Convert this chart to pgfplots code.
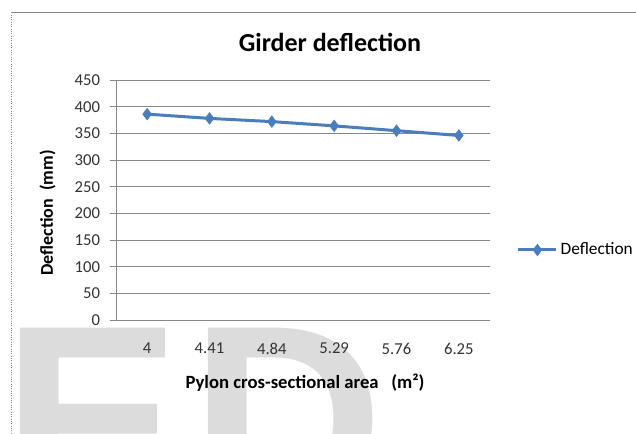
\documentclass[border=0pt]{standalone}
\usepackage{pgfplots}
\pgfplotsset{compat=1.18}
\usepackage{fontspec}
\setmainfont{Carlito}
\newfontfamily\wmfont{Liberation Sans}
\definecolor{excelblue}{RGB}{74,126,187}
\definecolor{gridgray}{RGB}{134,134,134}
\definecolor{wmgray}{RGB}{220,220,220}

\begin{document}
\begin{tikzpicture}[x=0.75pt,y=0.75pt]
% picture frame, 636 x 433 px (y measured upward)
\clip (0,0) rectangle (636,433);
\fill[white] (0,0) rectangle (636,433);

% faint watermark letters behind the chart
\node[wmgray, inner sep=0pt, anchor=base west, font=\wmfont\bfseries\fontsize{201}{201}\selectfont] at (2.5,-79) {E};
\node[wmgray, inner sep=0pt, anchor=base west, font=\wmfont\bfseries\fontsize{201}{201}\selectfont] at (190,-79) {D};

% chart-area border
\draw[gridgray, line width=0.75pt] (11,420.5) -- (636,420.5);
\draw[gridgray, line width=0.75pt, densely dotted] (11,420.5) -- (11,0);

\begin{axis}[
  at={(87pt,84.75pt)}, anchor=south west,
  scale only axis, width=280.5pt, height=180pt,
  xmin=-0.5, xmax=5.5, ymin=0, ymax=450,
  xtick={0,1,2,3,4,5},
  xticklabels={4,4.41,4.84,5.29,5.76,6.25},
  ytick={0,50,...,450},
  axis x line=bottom, axis y line=left,
  axis line style={-, draw=gridgray, line width=0.75pt},
  ymajorgrids, grid style={draw=gridgray, line width=0.75pt},
  tick align=outside, major tick length=4.5pt,
  xtick style={draw=none}, ytick style={draw=gridgray, line width=0.75pt},
  /pgf/number format/assume math mode=true,
  ticklabel style={font=\fontsize{12.5}{14}\selectfont, text=black!80},
  xticklabel shift=9.3pt, yticklabel shift=4pt,
  legend style={at={(axis description cs:1,0.2917)}, anchor=west, xshift=20pt,
    draw=none, fill=none, inner sep=0pt,
    font=\fontsize{13}{15}\selectfont},
  legend cell align=left,
  legend image code/.code={
    \draw[mark repeat=2, mark phase=2, #1] plot coordinates {(0pt,0pt) (14.25pt,0pt) (28.5pt,0pt)};},
]
\addplot[excelblue, line width=2.25pt, mark=diamond*, mark size=4.3pt,
  mark options={solid, line width=0.5pt}]
  coordinates {(0,386) (1,378) (2,372) (3,364) (4,355) (5,346)};
\addlegendentry{Deflection}
\end{axis}

% titles
\node[font=\bfseries\fontsize{19.5}{22}\selectfont] at (330,390.4) {Girder deflection};
\node[rotate=90, font=\bfseries\fontsize{13.5}{16}\selectfont] at (47.5,220) {Deflection\ \ (mm)};
\node[font=\bfseries\fontsize{14}{16}\selectfont] at (305,50) {Pylon cros-sectional area\ \ \ (m²)};
\end{tikzpicture}
\end{document}
